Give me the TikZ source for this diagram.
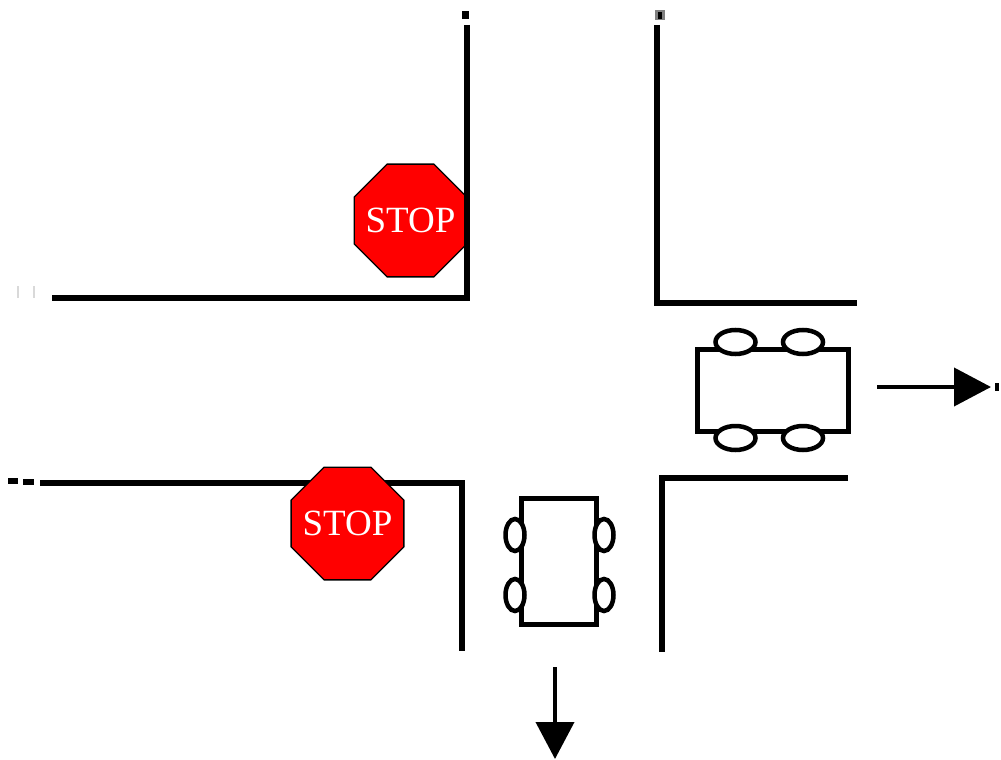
\documentclass[tikz,border=0pt]{standalone}
\usepackage{fontspec}
\setmainfont{Liberation Serif}
\usetikzlibrary{shapes.geometric,arrows.meta}
\begin{document}
\begin{tikzpicture}[x=1pt,y=-1pt,
  curb/.style={line width=6pt,line join=miter},
  stopsign/.style={regular polygon,regular polygon sides=8,minimum size=122pt,
    inner sep=0pt,fill=red,draw=black,line width=1.3pt},
  stoptext/.style={text=white,inner sep=0pt,font=\fontsize{37}{37}\selectfont},
  carbody/.style={draw=black,line width=5pt,fill=white},
  wheel/.style={draw=black,line width=4.5pt,fill=white},
  motion/.style={line width=4pt,-{Triangle[length=37pt,width=38pt]}},
  speck/.style={line width=6pt}]
  % canvas
  \fill[white] (0,0) rectangle (1001,760);
  \useasboundingbox (0,0) rectangle (1001,760);

  % upper stop sign sits under its curb
  \node[stopsign] (stopA) at (410.5,220.5) {};
  \node[stoptext] (stopAtext) at (stopA.center) {STOP};

  % curbs of the crossroads
  \draw[curb] (467,25) -- (467,298) -- (52,298);
  \draw[curb] (657,25) -- (657,303) -- (857,303);
  \draw[curb] (40,483) -- (462,483) -- (462,651);
  \draw[curb] (848,478) -- (662,478) -- (662,652);

  % small marks at the ends of the curbs
  \fill[black] (462,11) rectangle (469,19);
  \fill[gray] (655,10) rectangle (665,20);
  \fill[black] (658,12) rectangle (662,19);
  \draw[black!15,line width=2pt] (18,286) -- (18,298) (34,286) -- (34,298);
  \draw[speck] (8,481) -- (18,481);
  \draw[speck] (23,482) -- (34,482);
  \fill[black] (995,383) rectangle (999,391);

  % lower stop sign lies over its curb
  \node[stopsign] (stopB) at (347.5,523.5) {};
  \node[stoptext] (stopBtext) at (stopB.center) {STOP};

  % car leaving to the right
  \node[carbody,minimum width=151pt,minimum height=82pt,inner sep=0pt] (carR) at (772.5,390) {};
  \node[wheel,ellipse,minimum width=40pt,minimum height=24pt,inner sep=0pt] (wR1) at (735.5,342) {};
  \node[wheel,ellipse,minimum width=40pt,minimum height=24pt,inner sep=0pt] (wR2) at (803,342) {};
  \node[wheel,ellipse,minimum width=40pt,minimum height=24pt,inner sep=0pt] (wR3) at (735.5,438) {};
  \node[wheel,ellipse,minimum width=40pt,minimum height=24pt,inner sep=0pt] (wR4) at (803,438) {};

  % car leaving downwards
  \node[carbody,minimum width=75pt,minimum height=126pt,inner sep=0pt] (carD) at (558.5,561) {};
  \node[wheel,ellipse,minimum width=19pt,minimum height=32pt,inner sep=0pt] (wD1) at (515,535) {};
  \node[wheel,ellipse,minimum width=19pt,minimum height=32pt,inner sep=0pt] (wD2) at (515,595) {};
  \node[wheel,ellipse,minimum width=19pt,minimum height=32pt,inner sep=0pt] (wD3) at (604,535) {};
  \node[wheel,ellipse,minimum width=19pt,minimum height=32pt,inner sep=0pt] (wD4) at (604,595) {};

  % direction arrows
  \coordinate (eastFrom) at (877,387);
  \coordinate (eastTo) at (991,387);
  \coordinate (southFrom) at (555,667);
  \coordinate (southTo) at (555,759);
  \draw[motion] (eastFrom) -- (eastTo);
  \draw[motion] (southFrom) -- (southTo);
\end{tikzpicture}
\end{document}
